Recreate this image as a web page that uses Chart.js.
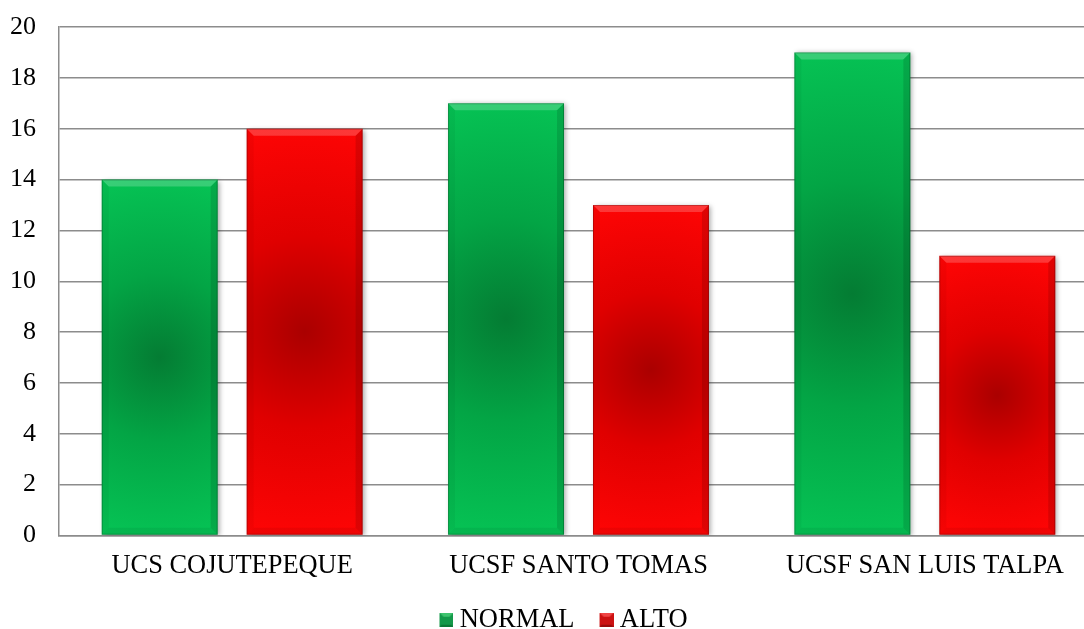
<!DOCTYPE html>
<html>
<head>
<meta charset="utf-8">
<script src="https://cdn.jsdelivr.net/npm/chart.js@4/dist/chart.umd.min.js"></script>
<style>
  html, body { margin: 0; padding: 0; background: #fff; overflow: hidden; }
  #wrap { position: absolute; left: 0; top: 0; width: 1128px; height: 647px; }
</style>
</head>
<body>
<div id="wrap"><canvas id="c" width="1128" height="647"></canvas></div>
<script>
const categories = ['UCS COJUTEPEQUE', 'UCSF SANTO TOMAS', 'UCSF SAN LUIS TALPA'];
const normalValues = [14, 17, 19];
const altoValues = [16, 13, 11];
const yTicks = [0, 2, 4, 6, 8, 10, 12, 14, 16, 18, 20];

const FONT = 'Liberation Serif, Times New Roman, serif';

// per-series fill: light rim colour and darker centre colour
const palettes = [
  { outer: '#06c455', mid: '#03a545', inner: '#047c33', key: '#14994a', keyTop: '#3fc46f', keySide: '#0c7a37' },
  { outer: '#ff0505', mid: '#e00000', inner: '#aa0000', key: '#cc1111', keyTop: '#f04545', keySide: '#9a0a0a' }
];

// small bevelled legend key; the square sits in the right part of the
// image so the text starts close to it
function makeKey(p) {
  const c = document.createElement('canvas');
  c.width = 21; c.height = 14;
  const g = c.getContext('2d');
  const l = 7, t = 0, s = 14, m = 4;
  g.fillStyle = p.key;
  g.fillRect(l, t, s, s);
  g.fillStyle = p.keyTop;
  g.beginPath(); g.moveTo(l, t); g.lineTo(l + s, t); g.lineTo(l + s / 2, t + s / 2); g.closePath(); g.fill();
  g.fillStyle = p.keySide;
  g.beginPath(); g.moveTo(l, t + s); g.lineTo(l + s, t + s); g.lineTo(l + s / 2, t + s / 2); g.closePath(); g.fill();
  g.fillStyle = p.key;
  g.fillRect(l + m / 2, t + m, s - m, s - m - 2);
  return c;
}
const keys = palettes.map(makeKey);

// radial shading that darkens towards the middle of each bar
const barShading = {
  id: 'barShading',
  afterLayout(chart) {
    // centre the legend under the full chart width
    if (chart.legend) chart.legend.left += 29;
  },
  beforeDatasetsDraw(chart) {
    const ctx = chart.ctx;
    chart.data.datasets.forEach((ds, di) => {
      const meta = chart.getDatasetMeta(di);
      const p = palettes[di];
      meta.data.forEach(el => {
        const cx = el.x;
        const cy = (el.y + el.base) / 2;
        const r = Math.max((el.base - el.y) / 2, el.width / 2) * 1.05;
        const g = ctx.createRadialGradient(cx, cy, 0, cx, cy, r);
        g.addColorStop(0, p.inner);
        g.addColorStop(0.45, p.mid);
        g.addColorStop(1, p.outer);
        el.options = Object.assign({}, el.options, { backgroundColor: g });
      });
    });
  },
  beforeDatasetDraw(chart) {
    const ctx = chart.ctx;
    ctx.save();
    ctx.shadowColor = 'rgba(0,0,0,0.35)';
    ctx.shadowBlur = 5;
    ctx.shadowOffsetX = 2;
    ctx.shadowOffsetY = 1;
  },
  afterDatasetDraw(chart) {
    chart.ctx.restore();
  },
  // bevelled edges on every bar
  afterDatasetsDraw(chart) {
    const ctx = chart.ctx;
    const b = 7;
    chart.data.datasets.forEach((ds, di) => {
      chart.getDatasetMeta(di).data.forEach(el => {
        const l = el.x - el.width / 2, r = el.x + el.width / 2;
        const t = el.y, bt = el.base;
        const poly = (pts, fill) => {
          ctx.beginPath();
          ctx.moveTo(pts[0][0], pts[0][1]);
          for (let i = 1; i < pts.length; i++) ctx.lineTo(pts[i][0], pts[i][1]);
          ctx.closePath();
          ctx.fillStyle = fill;
          ctx.fill();
        };
        ctx.save();
        poly([[l, t], [r, t], [r - b, t + b], [l + b, t + b]], 'rgba(255,255,255,0.2)');
        poly([[l, t], [l + b, t + b], [l + b, bt - b], [l, bt]], 'rgba(0,0,0,0.04)');
        poly([[r, t], [r - b, t + b], [r - b, bt - b], [r, bt]], 'rgba(0,0,0,0.12)');
        poly([[l, bt], [l + b, bt - b], [r - b, bt - b], [r, bt]], 'rgba(0,0,0,0.06)');
        ctx.strokeStyle = 'rgba(0,0,0,0.22)';
        ctx.lineWidth = 1;
        ctx.strokeRect(l + 0.5, t + 0.5, el.width - 1, bt - t - 1);
        ctx.restore();
      });
    });
  }
};

new Chart(document.getElementById('c'), {
  type: 'bar',
  data: {
    labels: categories,
    datasets: [
      { label: 'NORMAL', data: normalValues, backgroundColor: palettes[0].outer,
        categoryPercentage: 0.837, barPercentage: 0.8 },
      { label: 'ALTO', data: altoValues, backgroundColor: palettes[1].outer,
        categoryPercentage: 0.837, barPercentage: 0.8 }
    ]
  },
  options: {
    responsive: false,
    animation: false,
    layout: { padding: { left: 0, right: 30, top: 27, bottom: 4 } },
    plugins: {
      tooltip: { enabled: false },
      legend: {
        position: 'bottom',
        labels: {
          font: { family: FONT, size: 26.5 },
          color: '#000',
          usePointStyle: true,
          pointStyleWidth: 7,
          boxHeight: 14,
          padding: 25,
          generateLabels(chart) {
            return chart.data.datasets.map((ds, i) => ({
              text: ds.label,
              pointStyle: keys[i],
              fillStyle: palettes[i].key,
              strokeStyle: 'transparent',
              lineWidth: 0,
              datasetIndex: i,
              hidden: false
            }));
          }
        }
      }
    },
    scales: {
      x: {
        grid: { display: false, drawTicks: false },
        border: { display: true, color: '#8c8c8c', width: 1.5 },
        ticks: { font: { family: FONT, size: 26.4 }, color: '#000', padding: 15, maxRotation: 0 },
        afterFit(scale) { scale.height = 46; scale.paddingLeft = 0; scale.paddingRight = 0; }
      },
      y: {
        min: 0,
        max: 20,
        afterBuildTicks(scale) { scale.ticks = yTicks.map(v => ({ value: v })); },
        grid: { color: '#8c8c8c', lineWidth: 1.5, drawTicks: false },
        border: { display: true, color: '#8c8c8c', width: 1.5 },
        ticks: { font: { family: FONT, size: 26 }, color: '#000', padding: 23 },
        afterFit(scale) { scale.width = 59; scale.paddingTop = 0; scale.paddingBottom = 0; }
      }
    }
  },
  plugins: [barShading]
});
</script>
</body>
</html>
